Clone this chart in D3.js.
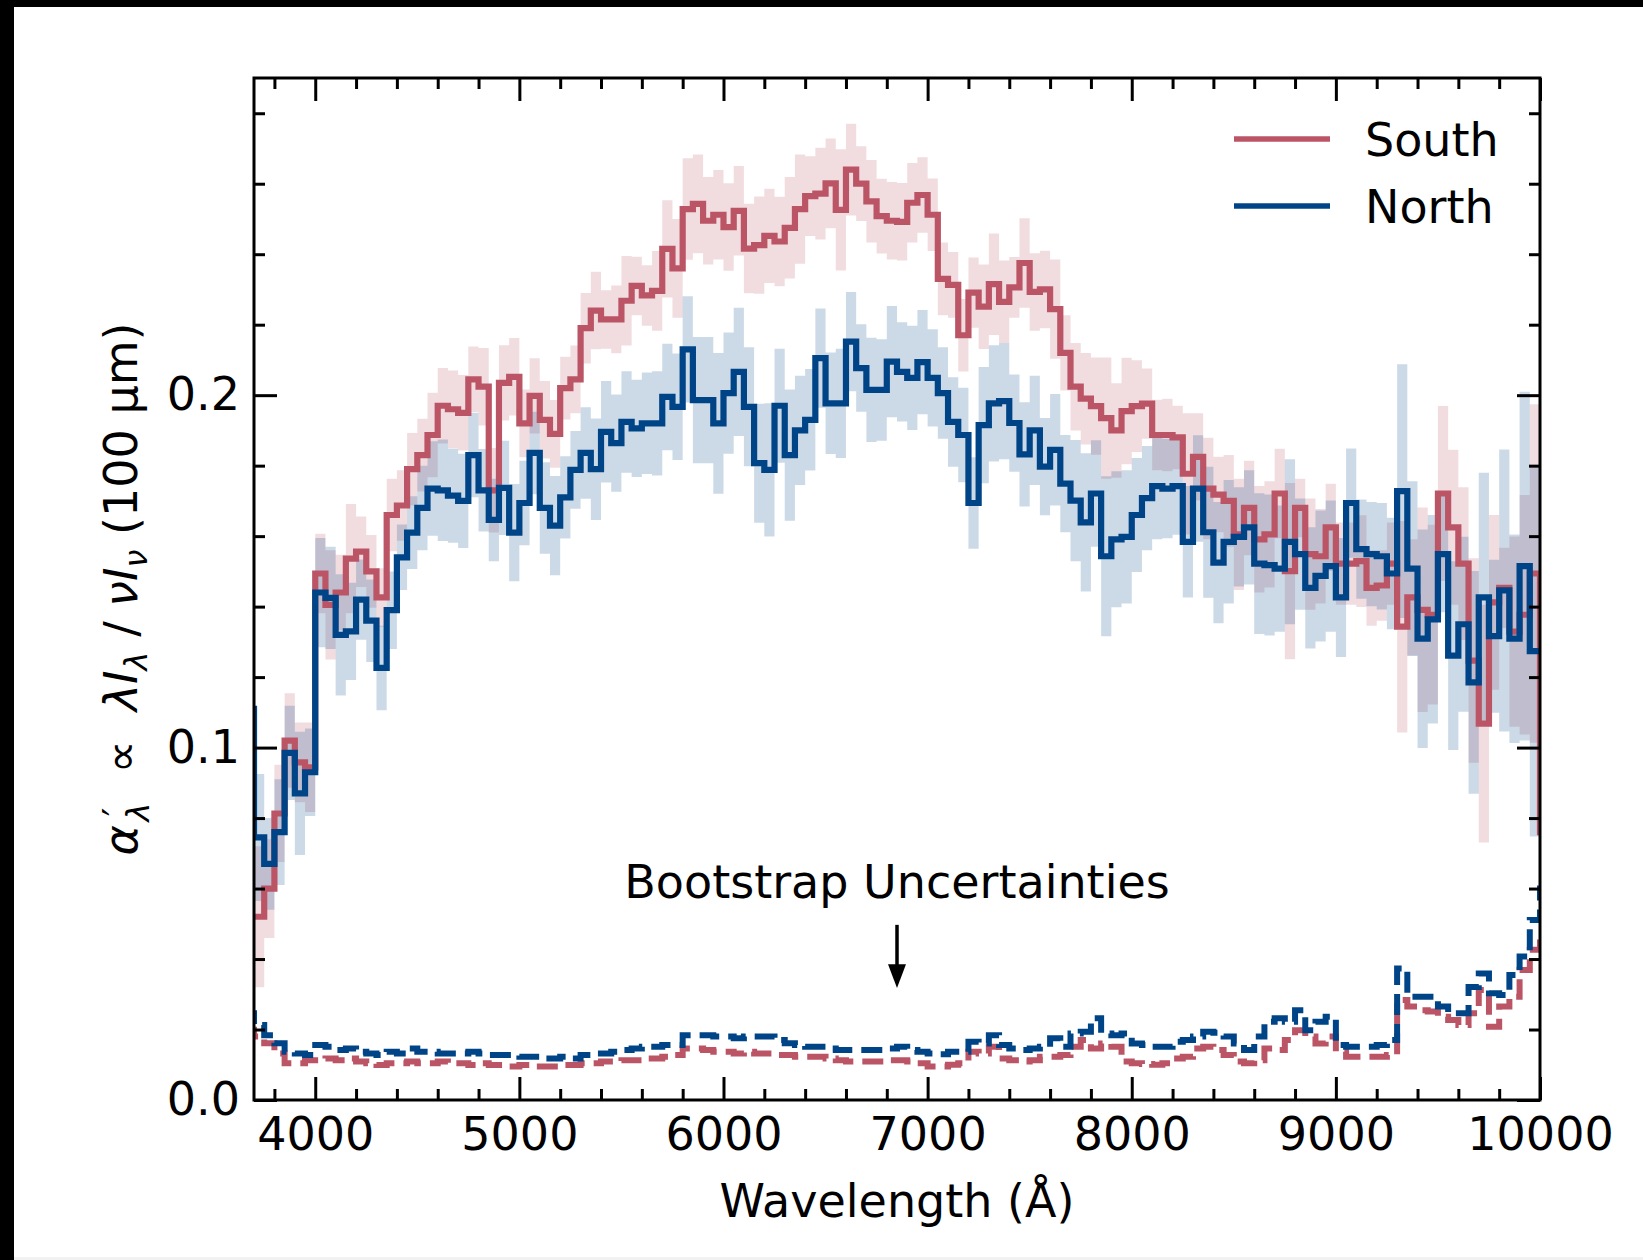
<!DOCTYPE html>
<html>
<head>
<meta charset="utf-8">
<script src="https://cdn.jsdelivr.net/npm/d3@7"></script>
<style>
  html, body { margin: 0; padding: 0; background: #000; }
  svg { display: block; }
  text { font-family: "DejaVu Sans", sans-serif; fill: #000; }
</style>
</head>
<body>
<svg id="chart" width="1643" height="1260"></svg>
<script>
// bins are 50 A wide; first and last entries sit just outside the plotted range
var binStarts = d3.range(3650, 10001, 50);

var south = [0.052,
  0.052, 0.060, 0.0813, 0.102, 0.0958, 0.0944, 0.1494, 0.1405, 0.144, 0.1536,
  0.1556, 0.150, 0.1426, 0.166, 0.1687, 0.179, 0.183, 0.1887, 0.197, 0.196,
  0.195, 0.2045, 0.2024, 0.173, 0.2035, 0.2052, 0.192, 0.1998, 0.193, 0.189,
  0.202, 0.2045, 0.219, 0.224, 0.2215, 0.2215, 0.2268, 0.231, 0.2283, 0.2296,
  0.2415, 0.236, 0.2528, 0.2543, 0.2495, 0.2512, 0.2477, 0.2523, 0.2416, 0.2426,
  0.2452, 0.2436, 0.2475, 0.2528, 0.2565, 0.2572, 0.2601, 0.2526, 0.264, 0.260,
  0.255, 0.2508, 0.2495, 0.2492, 0.2546, 0.2568, 0.2512, 0.233, 0.2313, 0.217,
  0.2291, 0.2251, 0.2315, 0.2265, 0.2306, 0.2375, 0.2293, 0.230, 0.2244, 0.212,
  0.2024, 0.199, 0.1969, 0.1935, 0.190, 0.1955, 0.1969, 0.1976, 0.1887, 0.1887,
  0.188, 0.1777, 0.1825, 0.1735, 0.1718, 0.170, 0.1605, 0.168, 0.1591, 0.1605,
  0.1721, 0.1501, 0.168, 0.1549, 0.1543, 0.1625, 0.1522, 0.1522, 0.1529, 0.1453,
  0.146, 0.1522, 0.1343, 0.1426, 0.1391, 0.1377, 0.1721, 0.1625, 0.1522, 0.1247,
  0.1068, 0.1412, 0.1453, 0.1329, 0.1377, 0.1494,
  0.076];

var southErr = [0.02,
  0.02, 0.014, 0.0138, 0.0134, 0.0113, 0.0127, 0.0113, 0.0155, 0.0107, 0.0155,
  0.010, 0.0103, 0.0083, 0.0103, 0.010, 0.0103, 0.0103, 0.012, 0.0107, 0.011,
  0.0107, 0.0093, 0.011, 0.012, 0.0107, 0.011, 0.0096, 0.0107, 0.011, 0.0096,
  0.0089, 0.0096, 0.010, 0.011, 0.0083, 0.0096, 0.0127, 0.0083, 0.0086, 0.0113,
  0.0138, 0.014, 0.0144, 0.014, 0.0124, 0.0127, 0.0124, 0.0127, 0.0127, 0.0138,
  0.0134, 0.0127, 0.0144, 0.0155, 0.0113, 0.013, 0.0127, 0.0172, 0.013, 0.0106,
  0.0117, 0.0106, 0.011, 0.011, 0.0113, 0.0107, 0.0103, 0.0103, 0.0093, 0.0103,
  0.010, 0.012, 0.0144, 0.0117, 0.0086, 0.0127, 0.011, 0.011, 0.0141, 0.0107,
  0.0124, 0.013, 0.0138, 0.0172, 0.0134, 0.0151, 0.013, 0.010, 0.010, 0.0103,
  0.009, 0.0172, 0.0124, 0.0144, 0.0107, 0.013, 0.0158, 0.0134, 0.0151, 0.0151,
  0.0127, 0.025, 0.0083, 0.0158, 0.0134, 0.0124, 0.0117, 0.0117, 0.013, 0.0107,
  0.010, 0.0117, 0.030, 0.0165, 0.029, 0.0255, 0.0248, 0.022, 0.0217, 0.029,
  0.0337, 0.0248, 0.0114, 0.027, 0.034, 0.048,
  0.048];

var north = [0.111,
  0.0745, 0.067, 0.076, 0.0985, 0.087, 0.093, 0.144, 0.1425, 0.132, 0.133,
  0.142, 0.136, 0.1226, 0.139, 0.154, 0.161, 0.168, 0.1735, 0.173, 0.1715,
  0.170, 0.183, 0.173, 0.1646, 0.1737, 0.161, 0.1694, 0.1836, 0.168, 0.163,
  0.171, 0.1788, 0.1836, 0.179, 0.1896, 0.1864, 0.1924, 0.1906, 0.192, 0.192,
  0.1995, 0.1967, 0.213, 0.1986, 0.1986, 0.192, 0.2006, 0.2066, 0.1967, 0.1807,
  0.1788, 0.197, 0.183, 0.190, 0.193, 0.2105, 0.1977, 0.1977, 0.2152, 0.2077,
  0.2015, 0.2015, 0.2095, 0.2066, 0.2049, 0.2094, 0.2049, 0.2006, 0.1924, 0.1887,
  0.1694, 0.1915, 0.1977, 0.1983, 0.1921, 0.1832, 0.190, 0.1797, 0.1845, 0.1749,
  0.1701, 0.1639, 0.1721, 0.1543, 0.1591, 0.1598, 0.166, 0.1708, 0.1742, 0.1735,
  0.1742, 0.1584, 0.1735, 0.1611, 0.1525, 0.1584, 0.1598, 0.1625, 0.1522, 0.1518,
  0.1508, 0.1584, 0.1549, 0.1453, 0.1487, 0.1515, 0.1426, 0.1694, 0.1563, 0.1549,
  0.1543, 0.1494, 0.1728, 0.1508, 0.1309, 0.1364, 0.1549, 0.1261, 0.135, 0.1185,
  0.1426, 0.1316, 0.1446, 0.1309, 0.1515, 0.1274,
  0.1274];

var northErr = [0.018,
  0.018, 0.013, 0.015, 0.0134, 0.0175, 0.0124, 0.0155, 0.0145, 0.0172, 0.0138,
  0.0114, 0.0117, 0.012, 0.011, 0.0093, 0.0103, 0.012, 0.0134, 0.0144, 0.0134,
  0.0134, 0.012, 0.0117, 0.0117, 0.0134, 0.0138, 0.012, 0.0117, 0.013, 0.0141,
  0.0117, 0.011, 0.013, 0.0144, 0.0144, 0.0138, 0.0144, 0.0138, 0.0144, 0.0148,
  0.0151, 0.0151, 0.0151, 0.0179, 0.0179, 0.020, 0.0172, 0.0182, 0.0169, 0.0169,
  0.0189, 0.0162, 0.0186, 0.0155, 0.0144, 0.0141, 0.0144, 0.0155, 0.0141, 0.0124,
  0.0148, 0.0144, 0.0158, 0.0141, 0.0148, 0.0148, 0.0138, 0.013, 0.0127, 0.0134,
  0.013, 0.0165, 0.0165, 0.0165, 0.0138, 0.0148, 0.0155, 0.0138, 0.0158, 0.0138,
  0.0172, 0.0196, 0.0151, 0.0227, 0.0193, 0.0189, 0.0162, 0.0148, 0.0151, 0.0141,
  0.0138, 0.0158, 0.0151, 0.0186, 0.0172, 0.0175, 0.0141, 0.0162, 0.020, 0.020,
  0.0179, 0.0234, 0.0158, 0.0172, 0.0186, 0.0186, 0.0169, 0.0155, 0.0141, 0.0148,
  0.0151, 0.0158, 0.036, 0.0248, 0.031, 0.0296, 0.0165, 0.0268, 0.0248, 0.0316,
  0.0354, 0.0217, 0.040, 0.0296, 0.0495, 0.0526,
  0.0526];

var southBoot = [0.0199,
  0.018, 0.0161, 0.0132, 0.0104, 0.0104, 0.0113, 0.0113, 0.0118, 0.0113, 0.0118,
  0.0109, 0.0104, 0.0099, 0.0104, 0.0104, 0.0109, 0.0104, 0.0104, 0.0109, 0.0104,
  0.0104, 0.0099, 0.0104, 0.0099, 0.0099, 0.0095, 0.0099, 0.0095, 0.0095, 0.0095,
  0.0099, 0.0099, 0.0104, 0.0104, 0.0109, 0.0109, 0.0113, 0.0113, 0.0118, 0.0118,
  0.0123, 0.0128, 0.0146, 0.0146, 0.0142, 0.0137, 0.0137, 0.0132, 0.0137, 0.0132,
  0.0132, 0.0128, 0.0128, 0.0123, 0.0123, 0.0123, 0.0118, 0.0113, 0.0109, 0.0109,
  0.0109, 0.0109, 0.0113, 0.0113, 0.0109, 0.0104, 0.0095, 0.0095, 0.010, 0.0104,
  0.0137, 0.0132, 0.0151, 0.0118, 0.0113, 0.0109, 0.0113, 0.0123, 0.0123, 0.0128,
  0.0151, 0.017, 0.0146, 0.016, 0.0151, 0.0109, 0.0104, 0.0102, 0.010, 0.0104,
  0.0118, 0.0123, 0.0146, 0.0151, 0.0142, 0.0128, 0.0109, 0.0104, 0.0113, 0.0146,
  0.0142, 0.017, 0.0198, 0.018, 0.016, 0.018, 0.0137, 0.0123, 0.0123, 0.0123,
  0.0123, 0.0128, 0.0284, 0.0265, 0.0255, 0.0251, 0.0236, 0.0227, 0.0213, 0.0246,
  0.0312, 0.0208, 0.0265, 0.0293, 0.0369, 0.0426,
  0.0463];

var northBoot = [0.0246,
  0.0213, 0.0184, 0.0161, 0.0137, 0.0132, 0.0128, 0.0156, 0.0151, 0.0142, 0.0146,
  0.0137, 0.0132, 0.0128, 0.0137, 0.0132, 0.0146, 0.0137, 0.0137, 0.0132, 0.0132,
  0.0132, 0.0137, 0.0132, 0.0128, 0.0128, 0.0128, 0.0123, 0.0123, 0.0118, 0.0118,
  0.0123, 0.0118, 0.0128, 0.0132, 0.0132, 0.0137, 0.0142, 0.0146, 0.0151, 0.0151,
  0.0156, 0.0156, 0.0184, 0.0184, 0.0184, 0.018, 0.018, 0.0175, 0.018, 0.018,
  0.018, 0.017, 0.0161, 0.0156, 0.0151, 0.0151, 0.0146, 0.0142, 0.0142, 0.0142,
  0.0142, 0.0142, 0.0146, 0.0151, 0.0142, 0.0137, 0.0132, 0.013, 0.0137, 0.0137,
  0.0165, 0.016, 0.0184, 0.0156, 0.0146, 0.0142, 0.0146, 0.0151, 0.0175, 0.0151,
  0.0189, 0.0194, 0.0232, 0.0189, 0.0184, 0.0189, 0.016, 0.0156, 0.0151, 0.0151,
  0.0165, 0.017, 0.018, 0.0194, 0.0191, 0.018, 0.016, 0.0142, 0.018, 0.0222,
  0.0232, 0.0222, 0.0255, 0.0198, 0.0222, 0.0236, 0.0156, 0.0151, 0.0151, 0.0151,
  0.0156, 0.017, 0.0373, 0.0293, 0.0293, 0.0293, 0.0265, 0.0246, 0.0246, 0.0321,
  0.0359, 0.0303, 0.0298, 0.0355, 0.0407, 0.0511,
  0.060];

var xTicks = [4000, 5000, 6000, 7000, 8000, 9000, 10000];
var yTicks = [0.0, 0.1, 0.2];

var RED = "#BB5566", BLUE = "#004488";

var svg = d3.select("#chart");
var W = +svg.attr("width"), H = +svg.attr("height");

// page: white sheet with the dark edges of the original scan
svg.append("rect").attr("width", W).attr("height", H).attr("fill", "#000");
svg.append("rect").attr("x", 14).attr("y", 7).attr("width", W - 14).attr("height", H - 10).attr("fill", "#fff");
svg.append("rect").attr("x", 14).attr("y", H - 3).attr("width", W - 14).attr("height", 3).attr("fill", "#f2f2f2");

var x = d3.scaleLinear().domain([3700, 10000]).range([254, 1540]);
var y = d3.scaleLinear().domain([0, 0.29]).range([1100, 78]);

svg.append("clipPath").attr("id", "clip")
  .append("rect").attr("x", x.range()[0]).attr("y", y.range()[1])
  .attr("width", x.range()[1] - x.range()[0]).attr("height", y.range()[0] - y.range()[1]);

var plot = svg.append("g").attr("clip-path", "url(#clip)");

// step helpers: each value holds from its bin start to the next one
function stepPoints(vals) {
  var pts = vals.map(function (v, i) { return [binStarts[i], v]; });
  pts.push([binStarts[binStarts.length - 1] + 50, vals[vals.length - 1]]);
  return pts;
}
function bandPoints(vals, errs) {
  var pts = vals.map(function (v, i) { return [binStarts[i], v - errs[i], v + errs[i]]; });
  var last = pts[pts.length - 1];
  pts.push([last[0] + 50, last[1], last[2]]);
  return pts;
}

var line = d3.line().curve(d3.curveStepAfter)
  .x(function (d) { return x(d[0]); })
  .y(function (d) { return y(d[1]); });
var area = d3.area().curve(d3.curveStepAfter)
  .x(function (d) { return x(d[0]); })
  .y0(function (d) { return y(d[1]); })
  .y1(function (d) { return y(d[2]); });

// bands
plot.append("path").attr("d", area(bandPoints(south, southErr)))
  .attr("fill", RED).attr("fill-opacity", 0.2);
plot.append("path").attr("d", area(bandPoints(north, northErr)))
  .attr("fill", BLUE).attr("fill-opacity", 0.2);

// bootstrap uncertainties (dashed)
[[southBoot, RED], [northBoot, BLUE]].forEach(function (s) {
  plot.append("path").attr("d", line(stepPoints(s[0])))
    .attr("fill", "none").attr("stroke", s[1]).attr("stroke-width", 6)
    .attr("stroke-dasharray", "21,9");
});

// main spectra
[[south, RED], [north, BLUE]].forEach(function (s) {
  plot.append("path").attr("d", line(stepPoints(s[0])))
    .attr("fill", "none").attr("stroke", s[1]).attr("stroke-width", 6.2)
    .attr("stroke-linejoin", "miter");
});

// axes, ticks pointing in on all four sides
var fmtY = d3.format(".1f");
var minorX = d3.range(3800, 10001, 200).filter(function (v) { return v % 1000 !== 0; });
var minorY = d3.range(0.02, 0.29, 0.02).filter(function (v) { return Math.abs(v * 10 - Math.round(v * 10)) > 1e-6; });

function styleAxis(g) {
  g.select(".domain").remove();
  g.selectAll("line").attr("stroke", "#000").attr("stroke-width", 3);
  g.selectAll("text").attr("font-size", 46).attr("font-family", "DejaVu Sans");
}

svg.append("g").attr("transform", "translate(0," + y.range()[0] + ")")
  .call(d3.axisBottom(x).tickValues(xTicks).tickSize(-23).tickPadding(17).tickFormat(d3.format("d")))
  .call(styleAxis);
svg.append("g").attr("transform", "translate(0," + y.range()[0] + ")")
  .call(d3.axisBottom(x).tickValues(minorX).tickSize(-11).tickFormat(""))
  .call(styleAxis);
svg.append("g").attr("transform", "translate(0," + y.range()[1] + ")")
  .call(d3.axisTop(x).tickValues(xTicks).tickSize(-23).tickFormat(""))
  .call(styleAxis);
svg.append("g").attr("transform", "translate(0," + y.range()[1] + ")")
  .call(d3.axisTop(x).tickValues(minorX).tickSize(-11).tickFormat(""))
  .call(styleAxis);

svg.append("g").attr("transform", "translate(" + x.range()[0] + ",0)")
  .call(d3.axisLeft(y).tickValues(yTicks).tickSize(-23).tickPadding(14).tickFormat(fmtY))
  .call(styleAxis);
svg.append("g").attr("transform", "translate(" + x.range()[0] + ",0)")
  .call(d3.axisLeft(y).tickValues(minorY).tickSize(-11).tickFormat(""))
  .call(styleAxis);
svg.append("g").attr("transform", "translate(" + x.range()[1] + ",0)")
  .call(d3.axisRight(y).tickValues(yTicks).tickSize(-23).tickFormat(""))
  .call(styleAxis);
svg.append("g").attr("transform", "translate(" + x.range()[1] + ",0)")
  .call(d3.axisRight(y).tickValues(minorY).tickSize(-11).tickFormat(""))
  .call(styleAxis);

// frame
svg.append("rect")
  .attr("x", x.range()[0]).attr("y", y.range()[1])
  .attr("width", x.range()[1] - x.range()[0]).attr("height", y.range()[0] - y.range()[1])
  .attr("fill", "none").attr("stroke", "#000").attr("stroke-width", 3);

// axis titles
svg.append("text")
  .attr("x", (x.range()[0] + x.range()[1]) / 2).attr("y", 1217)
  .attr("text-anchor", "middle").attr("font-size", 46)
  .text("Wavelength (Å)");

var yl = svg.append("text")
  .attr("transform", "translate(137," + ((y.range()[0] + y.range()[1]) / 2) + ") rotate(-90)")
  .attr("text-anchor", "middle").attr("font-size", 46);
yl.append("tspan").attr("font-style", "italic").text("α");
yl.append("tspan").attr("font-size", 38).attr("dx", 9).attr("dy", -8).text("′");
yl.append("tspan").attr("font-size", 32).attr("font-style", "italic").attr("dx", -14).attr("dy", 20).text("λ");
yl.append("tspan").attr("dy", -12).text("\u00a0\u00a0∝\u00a0\u00a0");
yl.append("tspan").attr("font-style", "italic").text("λI");
yl.append("tspan").attr("font-size", 32).attr("font-style", "italic").attr("dy", 10).text("λ");
yl.append("tspan").attr("dy", -10).text(" / ");
yl.append("tspan").attr("font-style", "italic").text("νI");
yl.append("tspan").attr("font-size", 32).attr("font-style", "italic").attr("dy", 10).text("ν");
yl.append("tspan").attr("dy", -10).text(" (100 μm)");

// annotation with arrow
var ax = x(6850);
svg.append("text").attr("x", ax).attr("y", y(0.0573))
  .attr("text-anchor", "middle").attr("font-size", 46)
  .text("Bootstrap Uncertainties");
svg.append("line").attr("x1", ax).attr("x2", ax)
  .attr("y1", y(0.0497)).attr("y2", y(0.037))
  .attr("stroke", "#000").attr("stroke-width", 3.5);
svg.append("path")
  .attr("d", "M" + (ax - 9) + "," + y(0.0385) + "L" + (ax + 9) + "," + y(0.0385) + "L" + ax + "," + y(0.0318) + "Z")
  .attr("fill", "#000");

// legend
var legend = [["South", RED], ["North", BLUE]];
legend.forEach(function (d, i) {
  var ly = 139 + i * 67;
  svg.append("line").attr("x1", 1234).attr("x2", 1330).attr("y1", ly).attr("y2", ly)
    .attr("stroke", d[1]).attr("stroke-width", 5.5);
  svg.append("text").attr("x", 1365).attr("y", ly + 17).attr("font-size", 46).text(d[0]);
});
</script>
</body>
</html>
